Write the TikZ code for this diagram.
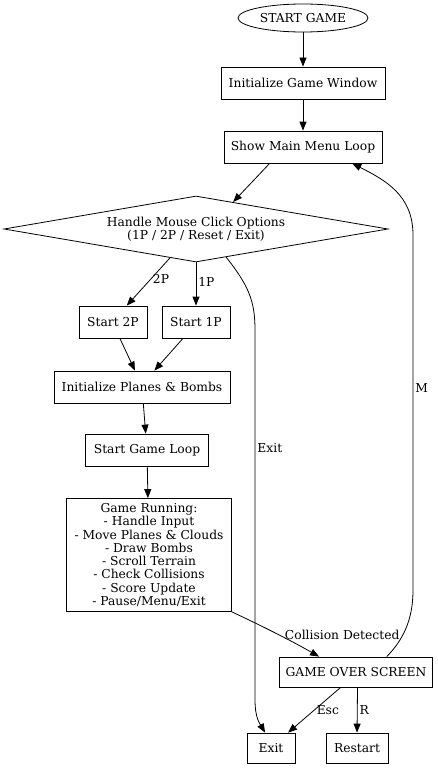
\documentclass[tikz,border=0pt]{standalone}
\usepackage{fontspec}
\setmainfont{DejaVu Serif}
\usetikzlibrary{positioning,shapes.geometric,arrows.meta,calc}

\begin{document}
\begin{tikzpicture}[x=1pt, y=-1pt, >={Triangle[length=9pt,width=7pt]}, line width=0.8pt,
  every node/.style={font=\fontsize{12.3}{13.3}\selectfont},
  caja/.style={draw, inner sep=0pt, minimum height=32pt},
  etiq/.style={inner sep=2pt}]
  \useasboundingbox (0,0) rectangle (438,768);

  % Inicio y menu
  \node[draw, ellipse, inner sep=0pt, minimum width=130pt, minimum height=28pt] (start) at (303,18) {START GAME};
  \node[caja, minimum width=164pt] (init) at (303,83) {Initialize Game Window};
  \node[caja, minimum width=158pt] (menu) at (303,147) {Show Main Menu Loop};
  \node[draw, diamond, aspect=5.8, inner sep=0pt, minimum width=384pt, minimum height=66pt, align=center] (click) at (196,229)
{Handle Mouse Click Options \\ (1P / 2P / Reset / Exit)};

  % Modos de juego
  \node[caja, minimum width=68pt] (dos) at (113,322) {Start 2P};
  \node[caja, minimum width=68pt] (uno) at (196,322) {Start 1P};
  \node[caja, minimum width=176pt] (planes) at (142,387) {Initialize Planes \& Bombs};
  \node[caja, minimum width=123pt] (loop) at (147,450) {Start Game Loop};
  \node[caja, minimum width=165pt, minimum height=113pt, align=center] (run) at (149,555)
{Game Running: \\ - Handle Input \\ - Move Planes \& Clouds \\ - Draw Bombs \\ - Scroll Terrain \\
 - Check Collisions \\ - Score Update \\ - Pause/Menu/Exit};

  % Fin de juego
  \node[caja, minimum width=153pt, minimum height=30pt] (over) at (356,672) {GAME OVER SCREEN};
  \node[caja, minimum width=48pt, minimum height=30pt] (salir) at (271,748) {Exit};
  \node[caja, minimum width=62pt, minimum height=30pt] (restart) at (357,748) {Restart};

  % Flechas
  \draw[->] (start) -- (init);
  \draw[->] (init) -- (menu);
  \draw[->] ($(menu.south west)!0.29!(menu.south east)$) -- (click.36);
  \draw[->] (click.-132) -- node[etiq, right, pos=0.45] {2P} ($(dos.north west)!0.7!(dos.north east)$);
  \draw[->] (click.south) -- node[etiq, right, pos=0.45] {1P} (uno.north);
  \draw[->] (click.-43) .. controls (248,285) and (255,300) .. (255,330)
    -- node[etiq, right, pos=0.32] {Exit} (255,700) .. controls (255,718) and (260,724) .. ($(salir.north west)!0.38!(salir.north east)$);
  \draw[->] ($(dos.south west)!0.6!(dos.south east)$) -- ($(planes.north west)!0.46!(planes.north east)$);
  \draw[->] ($(uno.south west)!0.31!(uno.south east)$) -- ($(planes.north west)!0.57!(planes.north east)$);
  \draw[->] (planes) -- (loop);
  \draw[->] (loop) -- (run);
  \draw[->] (run.south east) .. controls (260,625) and (290,640) .. node[etiq, above right, pos=0.8, xshift=-19pt, yshift=5pt] {Collision Detected}
    ($(over.north west)!0.26!(over.north east)$);
  \draw[->] ($(over.north west)!0.7!(over.north east)$) .. controls (403,640) and (413,620) .. (413,590)
    -- node[etiq, right, pos=0.57] {M} (413,235) .. controls (413,195) and (385,180) .. ($(menu.south west)!0.81!(menu.south east)$);
  \draw[->] ($(over.south west)!0.4!(over.south east)$) -- node[etiq, right, pos=0.5] {Esc} ($(salir.north west)!0.85!(salir.north east)$);
  \draw[->] ($(over.south west)!0.51!(over.south east)$) -- node[etiq, right, pos=0.5] {R} (restart.north);

\end{tikzpicture}
\end{document}
